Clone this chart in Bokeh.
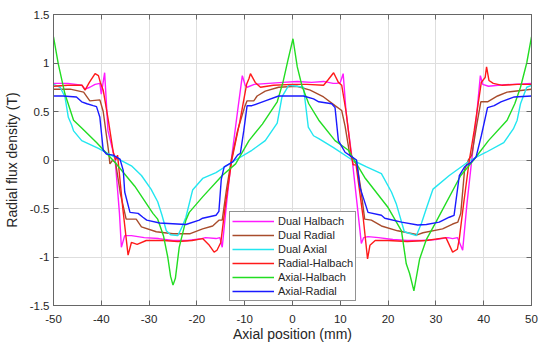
from bokeh.plotting import figure
from bokeh.models import FixedTicker, LinearAxis
from bokeh.embed import file_html
from bokeh.resources import INLINE

# ---------------- data ----------------
x_ticks = [-50, -40, -30, -20, -10, 0, 10, 20, 30, 40, 50]
x_tick_labels = ["-50", "-40", "-30", "-20", "-10", "0", "10", "20", "30", "40", "50"]
y_ticks = [-1.5, -1.0, -0.5, 0.0, 0.5, 1.0, 1.5]
y_tick_labels = ["-1.5", "-1", "-0.5", "0", "0.5", "1", "1.5"]

dual_halbach_x = [-50, -47, -44.1, -43.4, -42.4, -41.3, -40.3, -40.0, -39.3, -38.6, -37.1, -36.2, -35.8, -35.1,
                  -33.7, -31, -28, -25, -22, -19, -18.2, -16, -15.2, -14.7, -13.8, -12.8, -11.5, -10.5, -9.9,
                  -9.5, -8, -5, -2, 1, 4, 6.5, 8.5, 9.3, 10.0, 10.6, 11.2, 12.5, 13.5, 14.4, 14.9, 15.8, 18, 21,
                  24, 27, 30, 32.5, 33.5, 34.5, 35.6, 36.5, 37.5, 38.5, 39.3, 39.8, 41, 43, 46, 50]
dual_halbach_y = [0.79, 0.79, 0.77, 0.73, 0.75, 0.78, 0.79, 0.68, 0.90, 0.30, 0.0, -0.55, -0.90, -0.78,
                  -0.78, -0.80, -0.81, -0.83, -0.83, -0.81, -0.80, -0.81, -0.80, -0.90, -0.45, 0.0, 0.50, 0.87, 0.77,
                  0.75, 0.78, 0.79, 0.80, 0.81, 0.80, 0.81, 0.79, 0.79, 0.80, 0.89, 0.50, 0.0, -0.45, -0.86, -0.80, -0.79, -0.80, -0.82,
                  -0.83, -0.83, -0.82, -0.80, -0.81, -0.80, -0.93, -0.45, 0.0, 0.45, 0.87, 0.78, 0.76, 0.77, 0.78, 0.79]

dual_radial_x = [-50, -46.5, -43.7, -42.4, -40.3, -39.6, -38.5, -38.2, -37.6, -37.0, -36, -34.8, -32.7, -31.6,
                 -28.5, -25, -21.4, -18.8, -16.7, -15.4, -14.7, -13.8, -12.8, -11.5, -10.0, -9.5, -8.1, -7.4,
                 -5.7, -2.9, 0.9, 3.7, 6.5, 8.9, 10.3, 11.0, 12.0, 12.7, 13.5, 14.3, 15.1, 16.5, 18.6, 22, 26.2,
                 27.3, 31.4, 33.5, 34.6, 35.2, 36.0, 36.8, 37.5, 38.5, 39.4, 40.8, 42.9, 44.9, 50]
dual_radial_y = [0.73, 0.73, 0.70, 0.61, 0.62, 0.50, 0.10, -0.04, 0.0, -0.03, -0.35, -0.61, -0.61, -0.69,
                 -0.74, -0.76, -0.76, -0.71, -0.68, -0.62, -0.62, -0.30, 0.0, 0.30, 0.55, 0.61, 0.61, 0.66,
                 0.71, 0.75, 0.76, 0.72, 0.65, 0.56, 0.51, 0.35, 0.05, 0.0, -0.05, -0.30, -0.61, -0.62, -0.68, -0.73, -0.77,
                 -0.75, -0.71, -0.66, -0.64, -0.55, -0.10, 0.0, 0.05, 0.35, 0.60, 0.60, 0.66, 0.70, 0.73]

dual_axial_x = [-50, -48.6, -47.6, -46.9, -46.2, -45.8, -44.1, -40.6, -37.2, -33.7, -31.6, -29.6, -28.2, -27.3,
                -26.4, -25.5, -24, -23.2, -22.3, -20.9, -18.8, -16, -11.9, -8.5, -5.7, -3.2, -2.2, -0.8, 0.9,
                2.3, 3.3, 4.4, 5.5, 8.5, 12.5, 15.5, 18.6, 20.7, 21.7, 23.4, 25.9, 27.0, 28, 29.4, 32.8, 37.3,
                40.5, 44.2, 46.2, 47.0, 47.7, 49, 50]
dual_axial_y = [0.78, 0.75, 0.65, 0.44, 0.36, 0.30, 0.20, 0.12, 0.03, -0.06, -0.16, -0.30, -0.43, -0.57,
                -0.73, -0.77, -0.78, -0.70, -0.59, -0.31, -0.19, -0.13, 0.0, 0.10, 0.20, 0.38, 0.65, 0.77, 0.76,
                0.75, 0.34, 0.25, 0.22, 0.13, 0.0, -0.07, -0.14, -0.33, -0.45, -0.74, -0.78, -0.65, -0.50, -0.30, -0.16, 0.0,
                0.08, 0.18, 0.32, 0.41, 0.58, 0.75, 0.77]

radial_halbach_x = [-50, -47, -44, -43.4, -42.5, -41.3, -40.6, -40.2, -39.6, -38.5, -37.5, -37.0, -36.6, -35.5,
                    -34.4, -33.7, -32.5, -30.6, -27, -24, -21, -18.8, -17.4, -16.4, -15.8, -15.0, -14, -12.7,
                    -11, -9.6, -9.1, -8.8, -7.8, -6.7, -4, 0, 3, 6.5, 7.5, 8.6, 9.6, 10.3, 11.2, 12.3, 12.7, 13.3,
                    14.8, 15.7, 16.2, 17.3, 20, 24, 28, 32.1, 33.5, 34.5, 34.9, 35.8, 37.0, 38, 39.5, 40.3, 40.6,
                    41.1, 42, 43.9, 47, 50]
radial_halbach_y = [0.76, 0.77, 0.77, 0.72, 0.80, 0.89, 0.87, 0.80, 0.72, 0.40, 0.08, 0.0, 0.05, -0.50,
                    -0.98, -0.85, -0.87, -0.83, -0.83, -0.84, -0.83, -0.81, -0.88, -0.95, -0.93, -0.85, -0.45, 0.0,
                    0.40, 0.78, 0.84, 0.89, 0.80, 0.75, 0.77, 0.78, 0.78, 0.77, 0.83, 0.90, 0.80, 0.77, 0.50, 0.05, -0.05, -0.05,
                    -0.60, -1.02, -0.88, -0.83, -0.83, -0.84, -0.83, -0.80, -0.95, -0.92, -0.81, -0.45, 0.0, 0.30, 0.80, 0.85, 0.96,
                    0.82, 0.79, 0.77, 0.78, 0.78]

axial_halbach_x = [-50, -49, -47.6, -45.8, -44.1, -41, -37.2, -33, -29.2, -28.2, -27, -26.1, -25.5, -25,
                   -24.5, -23.7, -22.3, -21.6, -18.8, -14.7, -11.9, -9.1, -6.3, -3.2, -2, -1, 0.1, 1.0, 2, 3.4,
                   5.5, 8.9, 11.7, 15.1, 20, 22.8, 23.8, 24.5, 25.4, 26.6, 28, 30, 35.2, 37.9, 41, 44.9, 46.5,
                   47.7, 49, 50]
axial_halbach_y = [1.27, 0.99, 0.68, 0.41, 0.33, 0.18, -0.02, -0.27, -0.55, -0.61, -0.78, -1.0, -1.2, -1.29,
                   -1.22, -0.90, -0.62, -0.54, -0.38, -0.16, -0.04, 0.20, 0.37, 0.60, 0.80, 1.02, 1.25, 0.96, 0.76, 0.58,
                   0.41, 0.20, 0.10, -0.18, -0.49, -0.73, -1.07, -1.17, -1.35, -1.02, -0.82, -0.64, -0.16, 0.0, 0.2, 0.41, 0.58,
                   0.75, 1.0, 1.27]

axial_radial_x = [-50, -48, -45.2, -44.1, -43, -41.7, -41, -40.3, -39.6, -38.9, -37.5, -36.1, -35.4, -35.1,
                  -34, -32.3, -31.3, -30.5, -27.8, -22.3, -19.5, -18.8, -16, -15.4, -14.9, -14.3, -12.5, -11.5,
                  -10.9, -10.2, -9.5, -8.5, -5.7, -2.9, 2.3, 4.4, 5.5, 8.2, 8.9, 9.6, 11, 12.5, 13.4, 14.1, 15.8,
                  18.6, 19.3, 22.8, 26.2, 28, 30.7, 32.8, 33.8, 34.9, 36, 37.2, 38.4, 39.5, 40.8, 42.2, 43.6,
                  46.4, 50]
axial_radial_y = [0.66, 0.66, 0.65, 0.60, 0.58, 0.56, 0.55, 0.44, 0.10, 0.06, 0.05, 0.01, -0.11, -0.33,
                  -0.54, -0.55, -0.59, -0.62, -0.65, -0.665, -0.62, -0.60, -0.57, -0.53, -0.20, -0.07, -0.02, 0.05,
                  0.07, 0.30, 0.56, 0.56, 0.61, 0.66, 0.66, 0.63, 0.60, 0.58, 0.54, 0.20, 0.08, 0.03, 0.0, -0.28, -0.54,
                  -0.57, -0.60, -0.64, -0.67, -0.665, -0.64, -0.59, -0.57, -0.16, -0.07, -0.03, 0.03, 0.25, 0.54, 0.56, 0.60,
                  0.65, 0.66]

series = [
    ("Dual Halbach", dual_halbach_x, dual_halbach_y, "#ff1aff"),
    ("Dual Radial", dual_radial_x, dual_radial_y, "#a84c2c"),
    ("Dual Axial", dual_axial_x, dual_axial_y, "#22e6f0"),
    ("Radial-Halbach", radial_halbach_x, radial_halbach_y, "#ff1a1a"),
    ("Axial-Halbach", axial_halbach_x, axial_halbach_y, "#22dd22"),
    ("Axial-Radial", axial_radial_x, axial_radial_y, "#1a1aff"),
]

FONT = "Liberation Sans"
TXT = "#262626"
AX = "#666666"

p = figure(width=550, height=350, x_range=(-50, 50), y_range=(-1.5, 1.5),
           output_backend="svg", toolbar_location=None,
           min_border_left=50, min_border_right=19, min_border_top=14, min_border_bottom=45)
p.background_fill_color = "white"
p.border_fill_color = "white"
p.outline_line_color = AX
p.outline_line_width = 1

for name, xs, ys, col in series:
    p.line(xs, ys, line_color=col, line_width=1.4, legend_label=name)

# axes
p.xaxis.ticker = FixedTicker(ticks=x_ticks)
p.yaxis.ticker = FixedTicker(ticks=y_ticks)
p.xaxis.major_label_overrides = {float(t): l for t, l in zip(x_ticks, x_tick_labels)}
p.yaxis.major_label_overrides = {float(t): l for t, l in zip(y_ticks, y_tick_labels)}
p.xaxis.axis_label = "Axial position (mm)"
p.yaxis.axis_label = "Radial flux density (T)"
for ax in (p.xaxis[0], p.yaxis[0]):
    ax.axis_line_color = AX
    ax.major_tick_line_color = AX
    ax.major_tick_in = 5
    ax.major_tick_out = 0
    ax.minor_tick_line_color = None
    ax.major_label_text_font = FONT
    ax.major_label_text_font_size = "11.5px"
    ax.major_label_text_color = TXT
    ax.axis_label_text_font = FONT
    ax.axis_label_text_font_size = "14px"
    ax.axis_label_text_font_style = "normal"
    ax.axis_label_text_color = TXT
p.xaxis.major_label_standoff = 9
p.xaxis.axis_label_standoff = 0
p.yaxis.major_label_standoff = 4
p.yaxis.axis_label_standoff = 7

# mirrored ticks on top and right (box on)
top = LinearAxis(ticker=FixedTicker(ticks=x_ticks))
right = LinearAxis(ticker=FixedTicker(ticks=y_ticks))
for ax in (top, right):
    ax.axis_line_color = AX
    ax.major_tick_line_color = AX
    ax.major_tick_in = 5
    ax.major_tick_out = 0
    ax.minor_tick_line_color = None
    ax.major_label_text_font_size = "0px"
    ax.major_label_standoff = 0
    ax.major_label_text_alpha = 0
p.add_layout(top, "above")
p.add_layout(right, "right")

# grid
p.grid.grid_line_color = "#dedede"
p.grid.grid_line_width = 1

# legend
lg = p.legend[0]
lg.location = (176, 4)
lg.border_line_color = "#262626"
lg.border_line_width = 1
lg.background_fill_color = "white"
lg.background_fill_alpha = 1
lg.padding = 2
lg.margin = 0
lg.spacing = 0
lg.label_height = 14
lg.glyph_height = 14
lg.glyph_width = 42
lg.label_standoff = 4
lg.label_text_font = FONT
lg.label_text_font_size = "11px"
lg.label_text_color = TXT

open("out.html", "w").write(file_html(p, INLINE))
